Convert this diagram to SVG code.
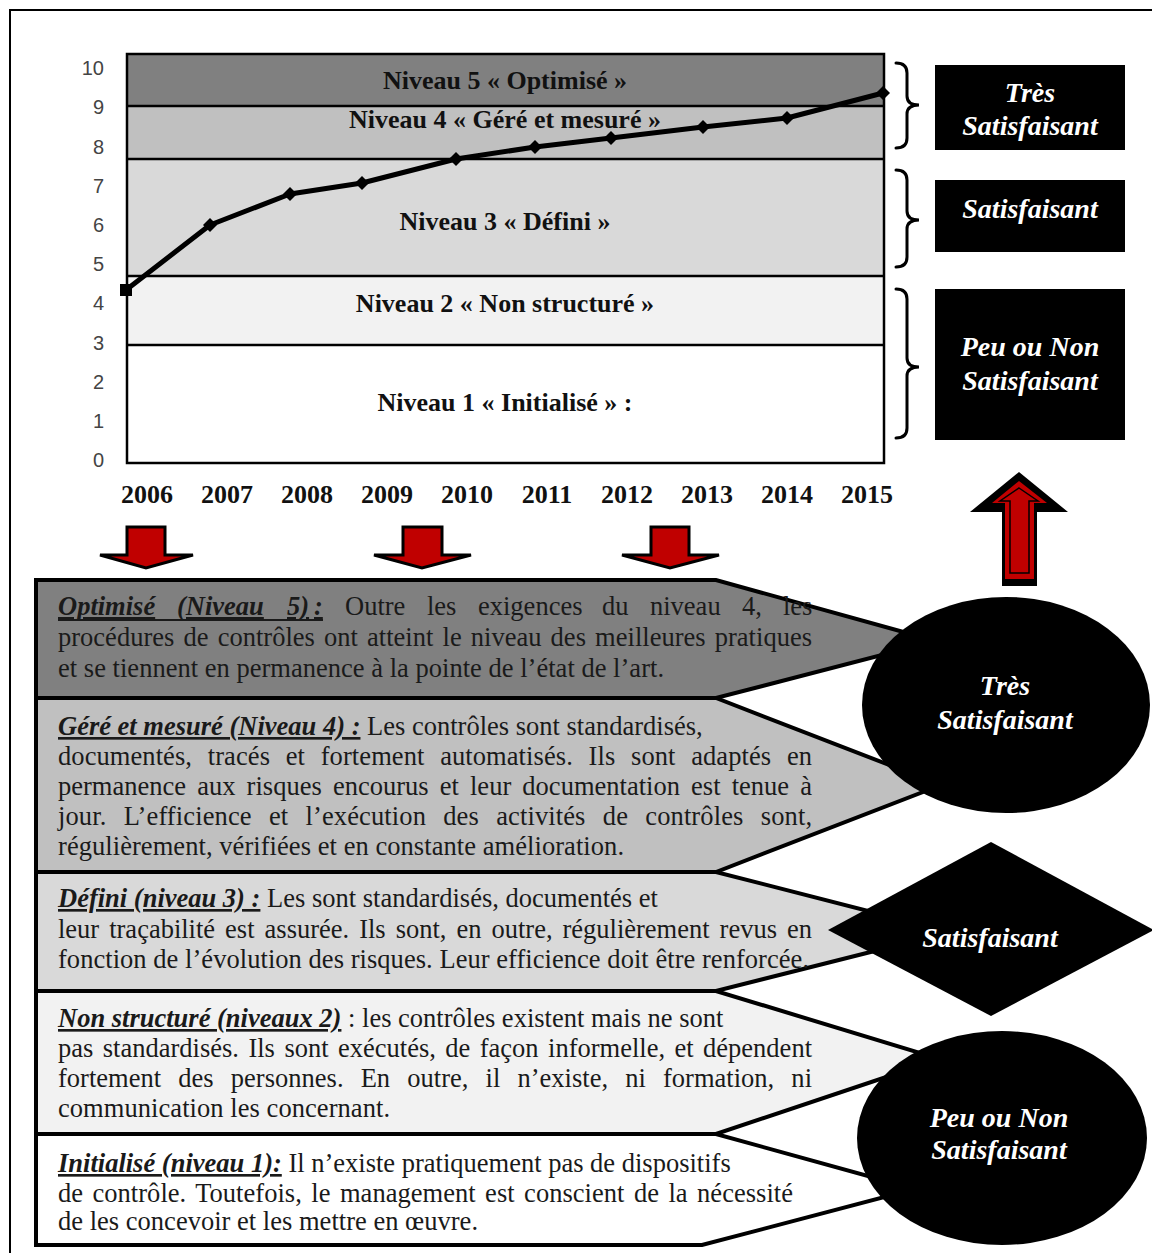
<svg xmlns="http://www.w3.org/2000/svg" width="1152" height="1253" viewBox="0 0 1152 1253">
<style>
.lvl{font-family:"Liberation Serif","Times New Roman",serif;font-weight:bold;font-size:26px;fill:#111;text-anchor:middle}
.yr{font-family:"Liberation Serif","Times New Roman",serif;font-weight:bold;font-size:26px;fill:#111;text-anchor:middle}
.ax{font-family:"Liberation Sans Narrow","Liberation Sans",Arial,sans-serif;font-size:20px;fill:#444;text-anchor:end}
.wt{font-family:"Liberation Serif","Times New Roman",serif;font-weight:bold;font-style:italic;font-size:28px;fill:#fff;text-anchor:middle}
.bt{font-family:"Liberation Serif","Times New Roman",serif;font-size:26.5px;fill:#1a1a1a}
.bi{font-weight:bold;font-style:italic;text-decoration:underline}
.band{stroke:#000;stroke-width:4;stroke-linejoin:miter}
.brace{fill:none;stroke:#000;stroke-width:3;stroke-linecap:round}
.dn{fill:#c00000;stroke:#000;stroke-width:3;stroke-linejoin:miter}
</style>
<defs>
<path id="dia" d="M0,-7 L7,0 L0,7 L-7,0 Z" fill="#000"/>
</defs>
<rect x="10" y="10" width="1160" height="1260" fill="#fff" stroke="#000" stroke-width="2"/>

<g id="chart">
<rect x="127" y="54" width="757" height="52" fill="#808080"/>
<rect x="127" y="106" width="757" height="53" fill="#c0c0c0"/>
<rect x="127" y="159" width="757" height="117" fill="#d9d9d9"/>
<rect x="127" y="276" width="757" height="69" fill="#f2f2f2"/>
<rect x="127" y="345" width="757" height="118" fill="#fff"/>
<g stroke="#000" stroke-width="2.5">
<line x1="127" y1="106" x2="884" y2="106"/>
<line x1="127" y1="159" x2="884" y2="159"/>
<line x1="127" y1="276" x2="884" y2="276"/>
<line x1="127" y1="345" x2="884" y2="345"/>
</g>
<rect x="127" y="54" width="757" height="409" fill="none" stroke="#000" stroke-width="2.5"/>
<text class="lvl" x="505" y="89">Niveau 5 « Optimisé »</text>
<text class="lvl" x="505" y="128">Niveau 4 « Géré et mesuré »</text>
<text class="lvl" x="505" y="230">Niveau 3 « Défini »</text>
<text class="lvl" x="505" y="312">Niveau 2 « Non structuré »</text>
<text class="lvl" x="505" y="411">Niveau 1 « Initialisé » :</text>
<polyline points="126,290 210,225 290,194 362,183 456,159 535,147 611,138 703,127 787,118 883,93" fill="none" stroke="#000" stroke-width="5" stroke-linejoin="round"/>
<rect x="120" y="284" width="12" height="12" fill="#000"/>
<use href="#dia" x="210" y="225"/>
<use href="#dia" x="290" y="194"/>
<use href="#dia" x="362" y="183"/>
<use href="#dia" x="456" y="159"/>
<use href="#dia" x="535" y="147"/>
<use href="#dia" x="611" y="138"/>
<use href="#dia" x="703" y="127"/>
<use href="#dia" x="787" y="118"/>
<use href="#dia" x="883" y="93"/>
<text class="ax" x="104" y="75">10</text>
<text class="ax" x="104" y="114">9</text>
<text class="ax" x="104" y="154">8</text>
<text class="ax" x="104" y="193">7</text>
<text class="ax" x="104" y="232">6</text>
<text class="ax" x="104" y="271">5</text>
<text class="ax" x="104" y="310">4</text>
<text class="ax" x="104" y="350">3</text>
<text class="ax" x="104" y="389">2</text>
<text class="ax" x="104" y="428">1</text>
<text class="ax" x="104" y="467">0</text>
<text class="yr" x="147" y="503">2006</text>
<text class="yr" x="227" y="503">2007</text>
<text class="yr" x="307" y="503">2008</text>
<text class="yr" x="387" y="503">2009</text>
<text class="yr" x="467" y="503">2010</text>
<text class="yr" x="547" y="503">2011</text>
<text class="yr" x="627" y="503">2012</text>
<text class="yr" x="707" y="503">2013</text>
<text class="yr" x="787" y="503">2014</text>
<text class="yr" x="867" y="503">2015</text>
</g>

<g id="braces">
<path class="brace" d="M896,63 Q907,63 907,73 L907,96 Q907,105 919,105 Q907,105 907,114 L907,138 Q907,148 896,148"/>
<path class="brace" d="M896,170 Q907,170 907,180 L907,211 Q907,220 919,220 Q907,220 907,229 L907,257 Q907,267 896,267"/>
<path class="brace" d="M896,289 Q907,289 907,299 L907,358 Q907,367 919,367 Q907,367 907,376 L907,428 Q907,438 896,438"/>
</g>

<g id="box-tres">
<rect x="935" y="65" width="190" height="85" fill="#000"/>
<text class="wt" x="1030" y="102">Très</text>
<text class="wt" x="1030" y="135">Satisfaisant</text>
</g>
<g id="box-satis">
<rect x="935" y="180" width="190" height="72" fill="#000"/>
<text class="wt" x="1030" y="218">Satisfaisant</text>
</g>
<g id="box-peu">
<rect x="935" y="289" width="190" height="151" fill="#000"/>
<text class="wt" x="1030" y="356">Peu ou Non</text>
<text class="wt" x="1030" y="390">Satisfaisant</text>
</g>

<g id="connectors">
<polygon class="dn" points="127,527 165,527 165,555 193,555 146,568 100,555 127,555"/>
<polygon class="dn" points="403,527 442,527 442,555 471,555 422,568 374,555 403,555"/>
<polygon class="dn" points="651,527 689,527 689,555 719,555 670,568 622,555 651,555"/>
<g id="up-arrow">
<polygon points="1019,472 1068,512 1037,512 1037,586 1002,586 1002,512 970,512" fill="#000"/>
<polygon points="1019,481 1047,503 1034,503 1034,579 1005,579 1005,503 992,503" fill="#c00000"/>
<polygon points="1019,488 1038,501 1029,501 1029,573 1010,573 1010,501 1000,501" fill="#c00000" stroke="#000" stroke-width="1.5"/>
</g>
</g>

<g id="band5">
<polygon class="band" fill="#808080" points="36,580 716,580 936,641 716,698 36,698"/>
<text class="bt" y="615"><tspan class="bi" x="58">Optimisé</tspan><tspan class="bi" x="177">(Niveau</tspan><tspan class="bi" x="287">5)</tspan><tspan class="bi" x="314">:</tspan><tspan x="345">Outre</tspan><tspan x="427">les</tspan><tspan x="478">exigences</tspan><tspan x="602">du</tspan><tspan x="650">niveau</tspan><tspan x="742">4,</tspan><tspan x="783">les</tspan></text>
<line x1="58" y1="620" x2="323" y2="620" stroke="#1a1a1a" stroke-width="2"/>
<text class="bt" x="58" y="646" word-spacing="2.5" textLength="754" lengthAdjust="spacing">procédures de contrôles ont atteint le niveau des meilleures pratiques</text>
<text class="bt" x="58" y="677" textLength="606" lengthAdjust="spacing">et se tiennent en permanence à la pointe de l’état de l’art.</text>
</g>

<g id="band4">
<polygon class="band" fill="#c0c0c0" points="36,698 716,698 941,785 716,872 36,872"/>
<text class="bt" x="58" y="735"><tspan class="bi">Géré et mesuré (Niveau 4) :</tspan> Les contrôles sont standardisés,</text>
<text class="bt" x="58" y="765" word-spacing="9" textLength="754" lengthAdjust="spacing">documentés, tracés et fortement automatisés. Ils sont adaptés en</text>
<text class="bt" x="58" y="795" word-spacing="4.5" textLength="754" lengthAdjust="spacing">permanence aux risques encourus et leur documentation est tenue à</text>
<text class="bt" x="58" y="825" word-spacing="10.5" textLength="754" lengthAdjust="spacing">jour. L’efficience et l’exécution des activités de contrôles sont,</text>
<text class="bt" x="58" y="855" textLength="566" lengthAdjust="spacing">régulièrement, vérifiées et en constante amélioration.</text>
</g>

<g id="band3">
<polygon class="band" fill="#d9d9d9" points="36,872 716,872 950,932 716,991 36,991"/>
<text class="bt" x="58" y="907"><tspan class="bi">Défini (niveau 3) :</tspan> Les sont standardisés, documentés et</text>
<text class="bt" x="58" y="938" word-spacing="3.4" textLength="754" lengthAdjust="spacing">leur traçabilité est assurée. Ils sont, en outre, régulièrement revus en</text>
<text class="bt" x="58" y="968" textLength="751" lengthAdjust="spacing">fonction de l’évolution des risques. Leur efficience doit être renforcée.</text>
</g>

<g id="band2">
<polygon class="band" fill="#f2f2f2" points="36,991 716,991 940,1059 716,1134 36,1134"/>
<text class="bt" x="58" y="1027"><tspan class="bi">Non structuré (niveaux 2)</tspan> : les contrôles existent mais ne sont</text>
<text class="bt" x="58" y="1057" word-spacing="2.8" textLength="754" lengthAdjust="spacing">pas standardisés. Ils sont exécutés, de façon informelle, et dépendent</text>
<text class="bt" x="58" y="1087" word-spacing="10.5" textLength="754" lengthAdjust="spacing">fortement des personnes. En outre, il n’existe, ni formation, ni</text>
<text class="bt" x="58" y="1117" textLength="332" lengthAdjust="spacing">communication les concernant.</text>
</g>

<g id="band1">
<polygon class="band" fill="#fff" points="36,1134 716,1134 915,1189 702,1245 36,1245"/>
<text class="bt" x="58" y="1172"><tspan class="bi">Initialisé (niveau 1):</tspan> Il n’existe pratiquement pas de dispositifs</text>
<text class="bt" x="58" y="1202" word-spacing="2.8" textLength="735" lengthAdjust="spacing">de contrôle. Toutefois, le management est conscient de la nécessité</text>
<text class="bt" x="58" y="1230" textLength="420" lengthAdjust="spacing">de les concevoir et les mettre en œuvre.</text>
</g>

<g id="ellipse-tres">
<ellipse cx="1006" cy="705" rx="144" ry="108" fill="#000"/>
<text class="wt" x="1005" y="695">Très</text>
<text class="wt" x="1005" y="729">Satisfaisant</text>
</g>
<g id="diamond-satis">
<polygon points="828,930 991,842 1154,930 991,1016" fill="#000"/>
<text class="wt" x="990" y="947">Satisfaisant</text>
</g>
<g id="ellipse-peu">
<ellipse cx="1002" cy="1138" rx="145" ry="107" fill="#000"/>
<text class="wt" x="999" y="1127">Peu ou Non</text>
<text class="wt" x="999" y="1159">Satisfaisant</text>
</g>
</svg>
